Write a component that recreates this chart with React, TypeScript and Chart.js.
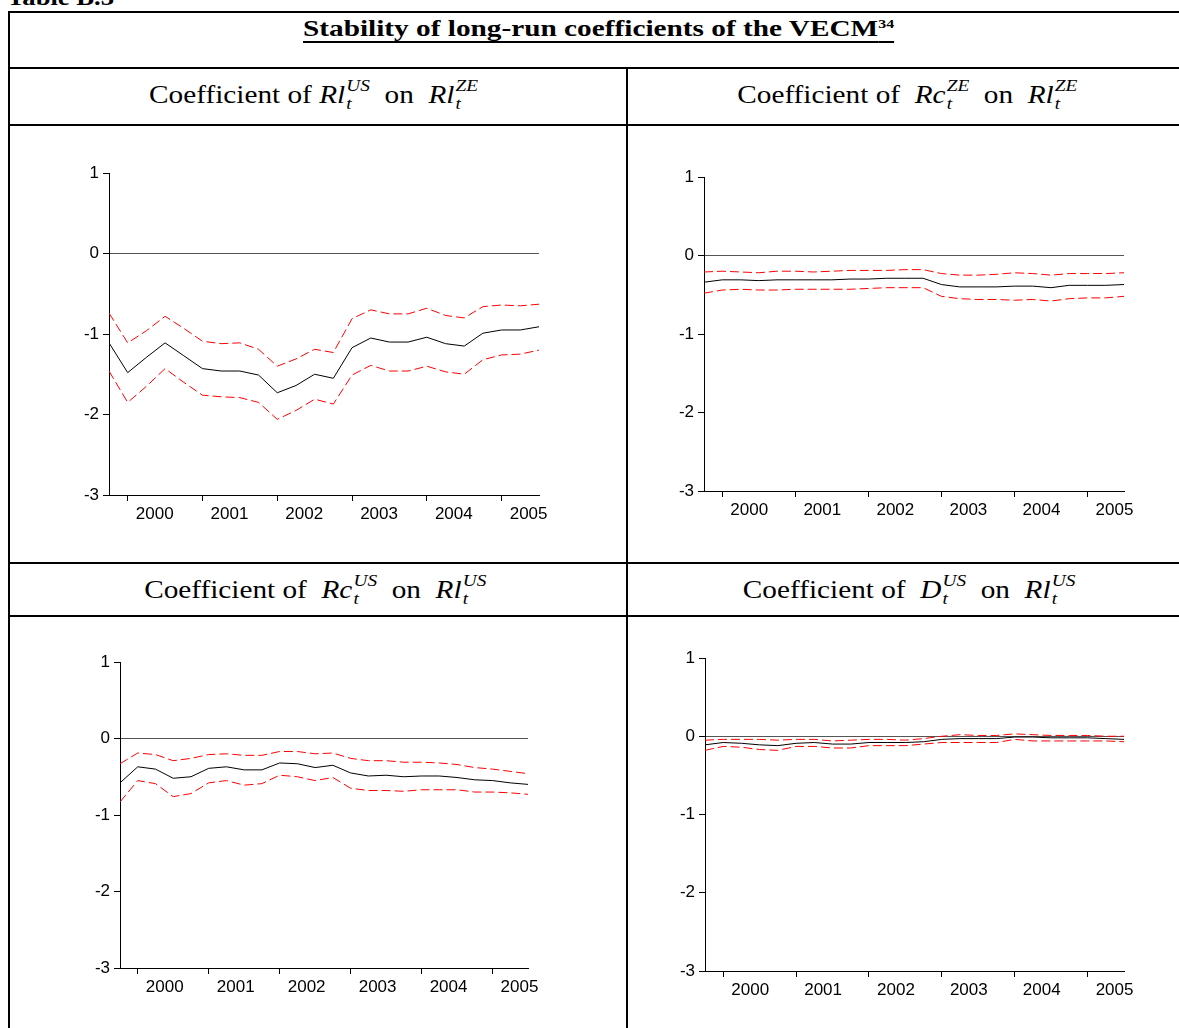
import React, { useEffect, useRef } from 'react';
import { Chart, registerables } from 'chart.js';

Chart.register(...registerables);

// ---------- data ----------
const QUARTERS = [
  '1999Q4',
  '2000Q1', '2000Q2', '2000Q3', '2000Q4',
  '2001Q1', '2001Q2', '2001Q3', '2001Q4',
  '2002Q1', '2002Q2', '2002Q3', '2002Q4',
  '2003Q1', '2003Q2', '2003Q3', '2003Q4',
  '2004Q1', '2004Q2', '2004Q3', '2004Q4',
  '2005Q1', '2005Q2', '2005Q3',
];
const YEAR_TICKS = [2000, 2001, 2002, 2003, 2004, 2005];
const Y_TICKS = [1, 0, -1, -2, -3];

// Coefficient of Rl_US on Rl_ZE
const RLUS_COEF = [-1.11, -1.48, -1.29, -1.11, -1.27, -1.43, -1.46, -1.46, -1.51, -1.73, -1.64, -1.50, -1.55, -1.17, -1.05, -1.10, -1.10, -1.04, -1.12, -1.15, -0.99, -0.95, -0.95, -0.91];
const RLUS_UPPER = [-0.74, -1.11, -0.96, -0.78, -0.93, -1.09, -1.12, -1.11, -1.19, -1.40, -1.31, -1.19, -1.23, -0.81, -0.70, -0.75, -0.75, -0.68, -0.77, -0.80, -0.66, -0.64, -0.65, -0.63];
const RLUS_LOWER = [-1.46, -1.85, -1.65, -1.43, -1.60, -1.76, -1.78, -1.79, -1.85, -2.06, -1.95, -1.81, -1.87, -1.51, -1.39, -1.46, -1.46, -1.40, -1.47, -1.50, -1.32, -1.26, -1.25, -1.20];

// Coefficient of Rc_ZE on Rl_ZE
const RCZE_COEF = [-0.34, -0.31, -0.31, -0.32, -0.31, -0.31, -0.31, -0.31, -0.30, -0.30, -0.29, -0.29, -0.29, -0.37, -0.40, -0.40, -0.40, -0.39, -0.39, -0.41, -0.38, -0.38, -0.38, -0.37];
const RCZE_UPPER = [-0.21, -0.20, -0.21, -0.22, -0.20, -0.20, -0.21, -0.20, -0.19, -0.19, -0.19, -0.18, -0.18, -0.23, -0.25, -0.25, -0.24, -0.22, -0.23, -0.25, -0.23, -0.23, -0.23, -0.22];
const RCZE_LOWER = [-0.48, -0.44, -0.43, -0.44, -0.44, -0.43, -0.43, -0.43, -0.43, -0.42, -0.41, -0.41, -0.41, -0.52, -0.55, -0.56, -0.56, -0.57, -0.56, -0.58, -0.55, -0.54, -0.54, -0.52];

// Coefficient of Rc_US on Rl_US
const RCUS_COEF = [-0.58, -0.37, -0.40, -0.52, -0.50, -0.39, -0.37, -0.41, -0.41, -0.32, -0.33, -0.38, -0.35, -0.45, -0.49, -0.48, -0.50, -0.49, -0.49, -0.51, -0.54, -0.55, -0.58, -0.60];
const RCUS_UPPER = [-0.33, -0.19, -0.21, -0.29, -0.26, -0.21, -0.20, -0.22, -0.22, -0.17, -0.17, -0.20, -0.19, -0.26, -0.29, -0.29, -0.31, -0.31, -0.32, -0.34, -0.38, -0.40, -0.43, -0.46];
const RCUS_LOWER = [-0.83, -0.55, -0.59, -0.76, -0.72, -0.58, -0.55, -0.61, -0.59, -0.48, -0.50, -0.55, -0.51, -0.65, -0.68, -0.68, -0.69, -0.67, -0.67, -0.67, -0.70, -0.70, -0.71, -0.73];

// Coefficient of D_US on Rl_US
const DUS_COEF = [-0.11, -0.08, -0.09, -0.11, -0.12, -0.09, -0.08, -0.10, -0.10, -0.08, -0.08, -0.08, -0.07, -0.04, -0.03, -0.03, -0.03, -0.01, -0.01, -0.02, -0.02, -0.02, -0.03, -0.04];
const DUS_UPPER = [-0.05, -0.04, -0.04, -0.04, -0.05, -0.04, -0.04, -0.06, -0.05, -0.04, -0.04, -0.05, -0.03, 0.00, 0.02, 0.01, 0.01, 0.03, 0.02, 0.01, 0.01, 0.01, 0.00, 0.00];
const DUS_LOWER = [-0.18, -0.13, -0.14, -0.17, -0.18, -0.13, -0.13, -0.15, -0.15, -0.12, -0.12, -0.12, -0.10, -0.08, -0.08, -0.08, -0.08, -0.04, -0.06, -0.06, -0.06, -0.06, -0.06, -0.07];

// ---------- helpers ----------
const quarterToX = (q: string) => Number(q.slice(0, 4)) + (Number(q.slice(5)) - 1) / 4;
const X_MIN = quarterToX(QUARTERS[0]);
const X_MAX = quarterToX(QUARTERS[QUARTERS.length - 1]);

const TICK_FONT = { family: "'Liberation Sans', Arial, sans-serif", size: 17 };
const PAD_LEFT = 50; // y-axis width
const PAD_TOP = 15;
const PAD_RIGHT = 45;
const PAD_BOTTOM = 35; // x-axis height

function makeConfig(coef: number[], upper: number[], lower: number[]): any {
  const pts = (arr: number[]) => arr.map((v, i) => ({ x: quarterToX(QUARTERS[i]), y: v }));
  const band = (arr: number[]) => ({
    data: pts(arr),
    borderColor: '#ff0000',
    borderWidth: 1,
    borderDash: [9, 4],
    pointRadius: 0,
    tension: 0,
    fill: false,
  });
  return {
    type: 'line',
    data: {
      datasets: [
        band(upper),
        band(lower),
        { data: pts(coef), borderColor: '#000000', borderWidth: 1, pointRadius: 0, tension: 0, fill: false },
      ],
    },
    options: {
      animation: false,
      responsive: false,
      maintainAspectRatio: false,
      events: [],
      layout: { padding: { left: 0, top: PAD_TOP, right: PAD_RIGHT, bottom: 0 } },
      plugins: { legend: { display: false }, tooltip: { enabled: false }, title: { display: false } },
      scales: {
        x: {
          type: 'linear',
          min: X_MIN,
          max: X_MAX,
          afterFit: (s: any) => { s.height = PAD_BOTTOM; },
          afterBuildTicks: (s: any) => { s.ticks = YEAR_TICKS.map((v) => ({ value: v })); },
          grid: { drawOnChartArea: false, drawTicks: true, tickLength: 6, tickColor: '#000', color: '#000' },
          border: { display: true, color: '#000', width: 1 },
          ticks: {
            autoSkip: false,
            maxRotation: 0,
            minRotation: 0,
            labelOffset: 27,
            padding: 3,
            color: '#000',
            font: TICK_FONT,
            callback: (v: any) => String(v),
          },
        },
        y: {
          type: 'linear',
          min: -3,
          max: 1,
          afterFit: (s: any) => { s.width = PAD_LEFT; },
          afterBuildTicks: (s: any) => { s.ticks = Y_TICKS.map((v) => ({ value: v })); },
          grid: {
            drawOnChartArea: true,
            drawTicks: true,
            tickLength: 6,
            tickColor: '#000',
            lineWidth: 1,
            color: (ctx: any) => (ctx.tick && ctx.tick.value === 0 ? '#555555' : 'rgba(0,0,0,0)'),
          },
          border: { display: true, color: '#000', width: 1 },
          ticks: {
            autoSkip: false,
            padding: 4,
            color: '#000',
            font: TICK_FONT,
            callback: (v: any) => String(v),
          },
        },
      },
    },
  };
}

type ChartProps = { L: number; T: number; R: number; B: number; coef: number[]; upper: number[]; lower: number[] };

function StabilityChart({ L, T, R, B, coef, upper, lower }: ChartProps) {
  const ref = useRef<HTMLCanvasElement>(null);
  const width = R - L + PAD_LEFT + PAD_RIGHT;
  const height = B - T + PAD_TOP + PAD_BOTTOM;
  useEffect(() => {
    const chart = new Chart(ref.current as HTMLCanvasElement, makeConfig(coef, upper, lower));
    return () => chart.destroy();
  }, []);
  return (
    <canvas
      ref={ref}
      width={width}
      height={height}
      style={{ position: 'absolute', left: L - PAD_LEFT, top: T - PAD_TOP, width, height, display: 'block' }}
    />
  );
}

// ---------- text ----------
const SERIF = "'Liberation Serif', 'Times New Roman', serif";

function Sym({ base, sup }: { base: string; sup: string }) {
  return (
    <span style={{ fontStyle: 'italic' }}>
      {base}
      <span
        style={{
          display: 'inline-flex',
          flexDirection: 'column',
          alignItems: 'flex-start',
          fontSize: 16.5,
          lineHeight: '18px',
          position: 'relative',
          top: -12,
          verticalAlign: 'baseline',
          marginLeft: 1,
        }}
      >
        <span>{sup}</span>
        <span>t</span>
      </span>
    </span>
  );
}

function Header({ cx, baseline, children }: { cx: number; baseline: number; children: React.ReactNode }) {
  const fs = 25;
  return (
    <div
      style={{
        position: 'absolute',
        left: cx - 400,
        width: 800,
        top: baseline - 0.8375 * fs,
        textAlign: 'center',
        fontFamily: SERIF,
        fontSize: fs,
        lineHeight: `${fs}px`,
        whiteSpace: 'nowrap',
        color: '#000',
      }}
    >
      <span style={{ display: 'inline-block', transform: 'scaleX(1.17)', transformOrigin: 'center' }}>{children}</span>
    </div>
  );
}

const NB = '\u00a0';

function Line({ x, y, w, h }: { x: number; y: number; w: number; h: number }) {
  return <div style={{ position: 'absolute', left: x, top: y, width: w, height: h, background: '#000' }} />;
}

export default function App() {
  return (
    <div style={{ position: 'absolute', left: 0, top: 0, width: 1179, height: 1028, overflow: 'hidden', background: '#fff' }}>
      {/* Table caption (cut off at top) */}
      <div
        style={{
          position: 'absolute',
          left: 7,
          top: 5 - 0.8375 * 24,
          fontFamily: SERIF,
          fontWeight: 'bold',
          fontSize: 24,
          lineHeight: '24px',
          whiteSpace: 'nowrap',
          transform: 'scaleX(1.11)',
          transformOrigin: 'left',
        }}
      >
        Table B.3
      </div>

      {/* Borders */}
      <Line x={8} y={11} w={1200} h={2} />
      <Line x={8} y={11} w={2} h={1100} />
      <Line x={8} y={67} w={1200} h={2} />
      <Line x={8} y={124} w={1200} h={2} />
      <Line x={8} y={562} w={1200} h={2} />
      <Line x={8} y={615} w={1200} h={2} />
      <Line x={626} y={67} w={2} h={1100} />

      {/* Title */}
      <div
        style={{
          position: 'absolute',
          left: 303,
          top: 36 - 0.8375 * 24,
          fontFamily: SERIF,
          fontWeight: 'bold',
          fontSize: 24,
          lineHeight: '24px',
          whiteSpace: 'nowrap',
          textDecoration: 'underline',
          textDecorationThickness: '2px',
          textUnderlineOffset: '5px',
          transform: 'scaleX(1.22)',
          transformOrigin: 'left',
        }}
      >
        Stability of long-run coefficients of the VECM
        <span style={{ fontSize: 13, position: 'relative', top: -8 }}>34</span>
      </div>

      {/* Headers */}
      <Header cx={314} baseline={103}>
        Coefficient of <Sym base="Rl" sup="US" />{NB}{NB}on{NB}{NB}<Sym base="Rl" sup="ZE" />
      </Header>
      <Header cx={907} baseline={103}>
        Coefficient of{NB}{NB}<Sym base="Rc" sup="ZE" />{NB}{NB}on{NB}{NB}<Sym base="Rl" sup="ZE" />
      </Header>
      <Header cx={315} baseline={598}>
        Coefficient of{NB}{NB}<Sym base="Rc" sup="US" />{NB}{NB}on{NB}{NB}<Sym base="Rl" sup="US" />
      </Header>
      <Header cx={909} baseline={598}>
        Coefficient of{NB}{NB}<Sym base="D" sup="US" />{NB}{NB}on{NB}{NB}<Sym base="Rl" sup="US" />
      </Header>

      {/* Charts */}
      <StabilityChart L={109} T={173} R={539} B={495} coef={RLUS_COEF} upper={RLUS_UPPER} lower={RLUS_LOWER} />
      <StabilityChart L={704} T={177} R={1124} B={491} coef={RCZE_COEF} upper={RCZE_UPPER} lower={RCZE_LOWER} />
      <StabilityChart L={120} T={662} R={528} B={968} coef={RCUS_COEF} upper={RCUS_UPPER} lower={RCUS_LOWER} />
      <StabilityChart L={705} T={658} R={1124} B={971} coef={DUS_COEF} upper={DUS_UPPER} lower={DUS_LOWER} />
    </div>
  );
}
